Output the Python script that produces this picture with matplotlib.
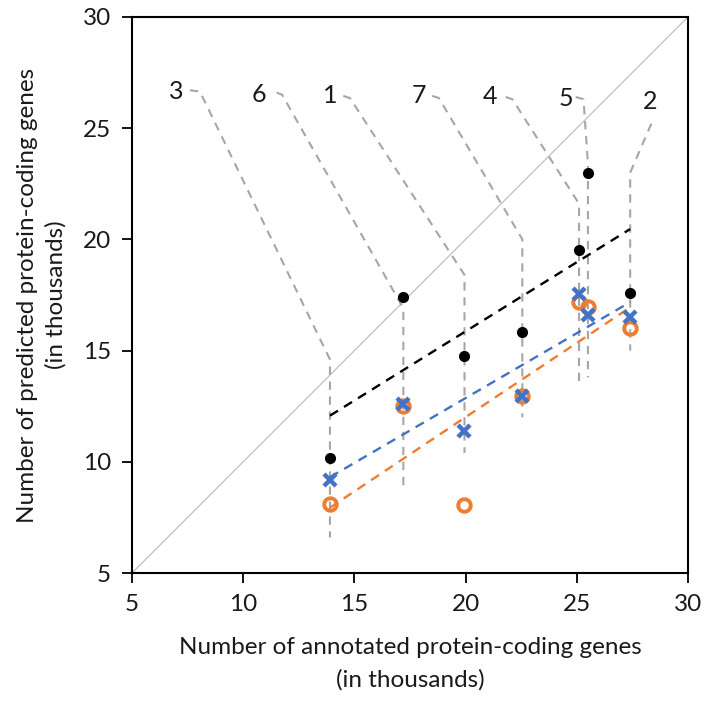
import numpy as np
import matplotlib
matplotlib.use('Agg')
import matplotlib.pyplot as plt

plt.rcParams['font.family'] = ['Lato', 'DejaVu Sans']

# annotated genes (thousands) per genome 3, 6, 1, 7, 4, 5, 2
annotated = [13.9, 17.2, 19.95, 22.55, 25.1, 25.5, 27.4]
pred_black = [10.17, 17.4, 14.76, 15.84, 19.5, 23.0, 17.6]
pred_blue = [9.2, 12.6, 11.4, 12.98, 17.55, 16.6, 16.5]
pred_orange = [8.1, 12.5, 8.06, 12.96, 17.2, 16.96, 16.02]

# leader lines from each genome label down through its column
labels = ['3', '6', '1', '7', '4', '5', '2']
label_pos = [(7.0, 26.65), (10.7, 26.5), (13.9, 26.45), (17.9, 26.45),
             (21.1, 26.4), (24.5, 26.35), (28.3, 26.2)]
leader_x = [[7.6, 8.05, 13.9, 13.9],
            [11.5, 11.75, 17.2, 17.2],
            [14.5, 14.8, 19.95, 19.95],
            [18.5, 18.8, 22.55, 22.55],
            [21.8, 22.1, 25.1, 25.1],
            [24.95, 25.3, 25.5, 25.5],
            [28.35, 28.35, 27.4, 27.4]]
leader_y = [[26.7, 26.65, 14.6, 6.6],
            [26.6, 26.5, 16.9, 8.65],
            [26.45, 26.35, 18.4, 10.4],
            [26.45, 26.35, 20.0, 12.0],
            [26.4, 26.3, 21.6, 13.6],
            [26.4, 26.3, 23.4, 13.8],
            [25.2, 25.2, 23.0, 15.0]]

fig = plt.figure(figsize=(7.04, 7.04), dpi=100)
ax = fig.add_axes([0.1875, 0.186, 0.7898, 0.790])

ax.plot([5, 30], [5, 30], color='#BFBFBF', linewidth=0.9, zorder=1)

for lx, ly in zip(leader_x, leader_y):
    ax.plot(lx, ly, color='#A6A6A6', linewidth=1.5, dashes=(4, 3.2), zorder=2)
for lab, (tx, ty) in zip(labels, label_pos):
    ax.text(tx, ty, lab, fontsize=18, ha='center', va='center', color='#1a1a1a')

x = np.array(annotated)
for ys, col in [(pred_black, 'black'), (pred_blue, '#4472C4'), (pred_orange, '#ED7D31')]:
    k, b = np.polyfit(x, ys, 1)
    ax.plot([x.min(), x.max()], [k * x.min() + b, k * x.max() + b],
            color=col, linewidth=1.7, dashes=(4, 3), zorder=3)

ax.plot(annotated, pred_black, 'o', color='black', markersize=7, zorder=4)
ax.plot(annotated, pred_blue, 'x', color='#4472C4', markersize=9,
        markeredgewidth=3.2, zorder=5)
ax.plot(annotated, pred_orange, 'o', markerfacecolor='none', markeredgecolor='#ED7D31',
        markersize=9, markeredgewidth=2.8, zorder=4)

ax.set_xlim(5, 30)
ax.set_ylim(5, 30)
ax.set_xticks([5, 10, 15, 20, 25, 30])
ax.set_yticks([5, 10, 15, 20, 25, 30])
ax.tick_params(labelsize=17.5, length=7, width=1.3, direction='out', pad=8,
               labelcolor='#1a1a1a')
for s in ax.spines.values():
    s.set_linewidth(1.5)

ax.set_xlabel('Number of annotated protein-coding genes\n(in thousands)',
              fontsize=17.5, labelpad=16, color='#1a1a1a', linespacing=1.6)
ax.set_ylabel('Number of predicted protein-coding genes\n(in thousands)',
              fontsize=17.5, labelpad=12, color='#1a1a1a', linespacing=1.4)

plt.savefig('out.png')
